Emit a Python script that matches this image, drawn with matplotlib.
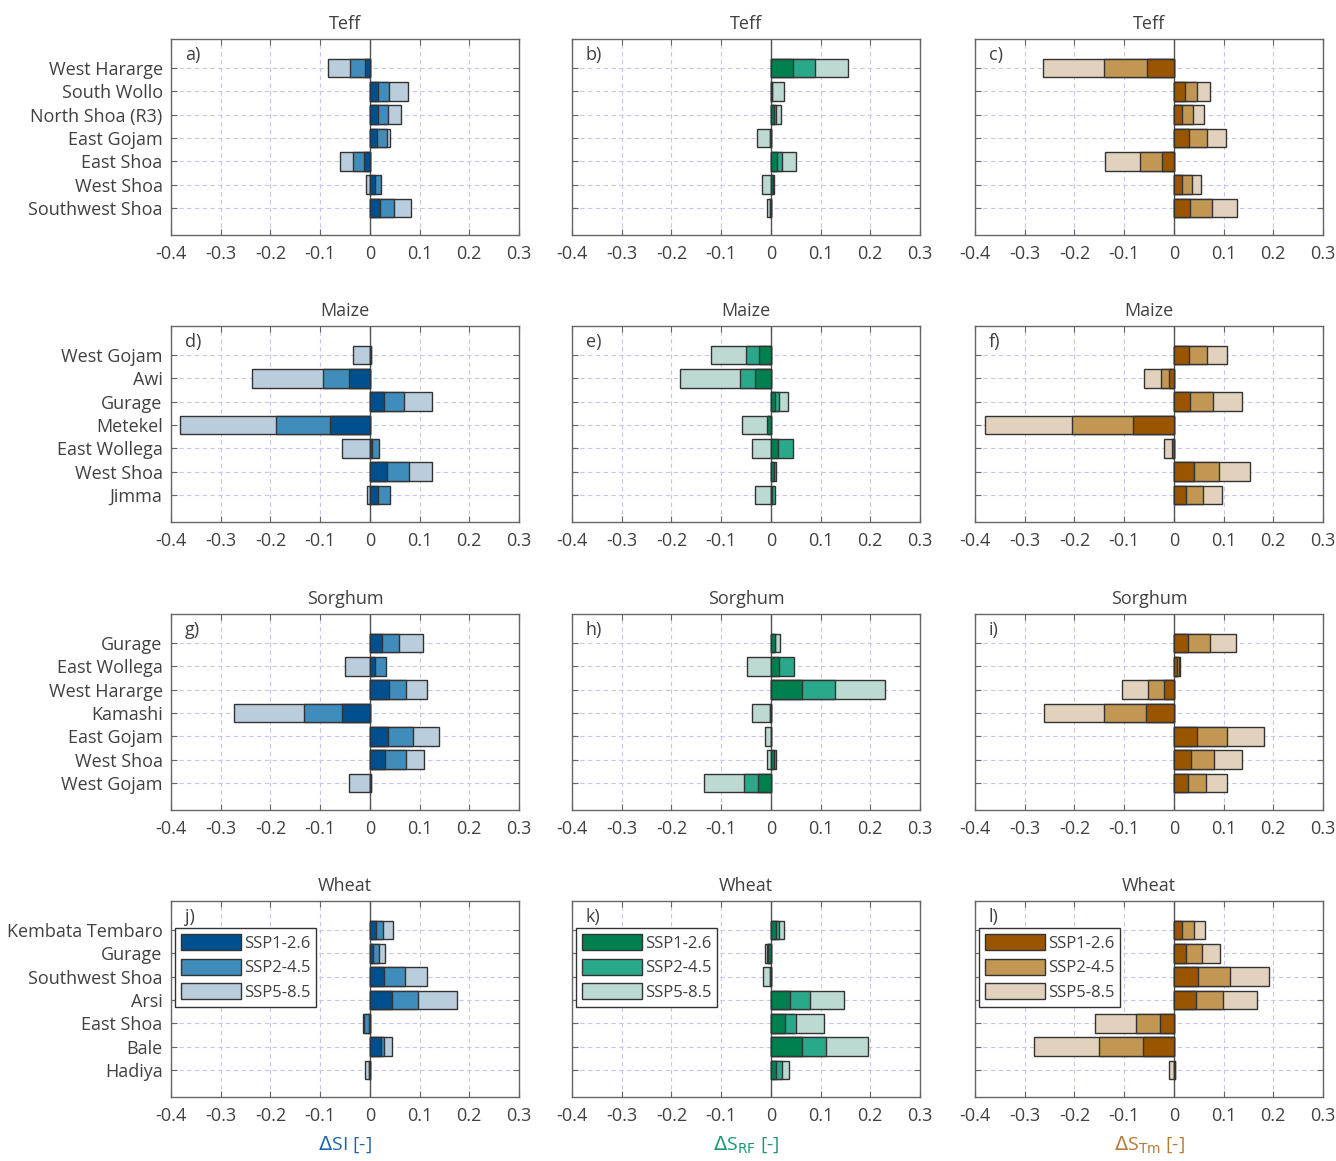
import matplotlib
import matplotlib.pyplot as plt
import numpy as np

matplotlib.use("Agg")

plt.rcParams["font.family"] = ["Open Sans", "DejaVu Sans"]
plt.rcParams["axes.unicode_minus"] = False

# ---- data ----
crops = ["Teff", "Maize", "Sorghum", "Wheat"]
scenarios = ["SSP1-2.6", "SSP2-4.5", "SSP5-8.5"]

teff_regions = ["West Hararge", "South Wollo", "North Shoa (R3)", "East Gojam",
                "East Shoa", "West Shoa", "Southwest Shoa"]
maize_regions = ["West Gojam", "Awi", "Gurage", "Metekel", "East Wollega",
                 "West Shoa", "Jimma"]
sorghum_regions = ["Gurage", "East Wollega", "West Hararge", "Kamashi",
                   "East Gojam", "West Shoa", "West Gojam"]
wheat_regions = ["Kembata Tembaro", "Gurage", "Southwest Shoa", "Arsi",
                 "East Shoa", "Bale", "Hadiya"]

# SI
teff_si_126 = [-0.010, 0.016, 0.016, 0.015, -0.011, 0.010, 0.021]
teff_si_245 = [-0.040, 0.038, 0.037, 0.034, -0.034, 0.023, 0.048]
teff_si_585 = [-0.085, 0.077, 0.062, 0.040, -0.061, -0.008, 0.083]
maize_si_126 = [0.003, -0.042, 0.028, -0.080, 0.005, 0.035, 0.017]
maize_si_245 = [0.002, -0.094, 0.068, -0.189, 0.018, 0.079, 0.040]
maize_si_585 = [-0.033, -0.237, 0.126, -0.381, -0.056, 0.126, -0.005]
sorghum_si_126 = [0.024, 0.011, 0.038, -0.056, 0.036, 0.030, 0.003]
sorghum_si_245 = [0.058, 0.032, 0.072, -0.132, 0.087, 0.072, 0.002]
sorghum_si_585 = [0.106, -0.050, 0.114, -0.274, 0.140, 0.109, -0.042]
wheat_si_126 = [0.012, 0.007, 0.028, 0.044, -0.001, 0.022, -0.002]
wheat_si_245 = [0.026, 0.019, 0.070, 0.097, -0.011, 0.029, -0.001]
wheat_si_585 = [0.046, 0.030, 0.115, 0.176, -0.014, 0.044, -0.010]

# S_RF
teff_rf_126 = [0.044, 0.003, 0.007, -0.001, 0.012, 0.004, -0.001]
teff_rf_245 = [0.088, 0.002, 0.011, -0.002, 0.023, 0.007, -0.002]
teff_rf_585 = [0.156, 0.027, 0.020, -0.028, 0.050, -0.018, -0.008]
maize_rf_126 = [-0.024, -0.031, 0.009, -0.008, 0.014, 0.007, 0.003]
maize_rf_245 = [-0.050, -0.062, 0.017, -0.006, 0.044, 0.011, 0.009]
maize_rf_585 = [-0.120, -0.183, 0.035, -0.059, -0.038, 0.003, -0.031]
sorghum_rf_126 = [0.008, 0.017, 0.062, -0.002, 0.001, 0.007, -0.026]
sorghum_rf_245 = [0.009, 0.046, 0.130, -0.001, 0.001, 0.011, -0.055]
sorghum_rf_585 = [0.018, -0.047, 0.229, -0.037, -0.011, -0.007, -0.135]
wheat_rf_126 = [0.010, -0.005, -0.002, 0.039, 0.029, 0.062, 0.011]
wheat_rf_245 = [0.017, -0.008, -0.001, 0.079, 0.051, 0.111, 0.023]
wheat_rf_585 = [0.027, -0.011, -0.015, 0.148, 0.107, 0.195, 0.037]

# S_Tm
teff_tm_126 = [-0.054, 0.022, 0.017, 0.030, -0.024, 0.016, 0.032]
teff_tm_245 = [-0.140, 0.047, 0.039, 0.066, -0.069, 0.037, 0.076]
teff_tm_585 = [-0.264, 0.072, 0.061, 0.104, -0.138, 0.055, 0.128]
maize_tm_126 = [0.030, -0.009, 0.032, -0.083, -0.003, 0.040, 0.025]
maize_tm_245 = [0.067, -0.026, 0.079, -0.204, -0.002, 0.091, 0.059]
maize_tm_585 = [0.106, -0.060, 0.138, -0.380, -0.019, 0.153, 0.097]
sorghum_tm_126 = [0.029, 0.007, -0.019, -0.056, 0.046, 0.035, 0.028]
sorghum_tm_245 = [0.072, 0.011, -0.053, -0.140, 0.107, 0.081, 0.065]
sorghum_tm_585 = [0.125, 0.013, -0.104, -0.262, 0.182, 0.138, 0.107]
wheat_tm_126 = [0.017, 0.024, 0.048, 0.044, -0.027, -0.062, 0.003]
wheat_tm_245 = [0.040, 0.057, 0.113, 0.099, -0.077, -0.150, 0.002]
wheat_tm_585 = [0.062, 0.093, 0.191, 0.167, -0.159, -0.282, -0.009]

xticks = [-0.4, -0.3, -0.2, -0.1, 0, 0.1, 0.2, 0.3]
xticklabels = ["-0.4", "-0.3", "-0.2", "-0.1", "0", "0.1", "0.2", "0.3"]

# ---- style ----
palettes = [
    ["#00508f", "#408cba", "#bacddc"],  # SI, blue
    ["#00804f", "#2aa88a", "#bcd9d2"],  # RF, green
    ["#9a5500", "#c29653", "#e1d1bd"],  # Tm, brown
]
xlab_colors = ["#1f64ae", "#1a9a6c", "#b87a35"]
xlabels = [r"$\Delta$SI [-]", r"$\Delta$S$_{\rm RF}$ [-]", r"$\Delta$S$_{\rm Tm}$ [-]"]
edge = "#333333"
txt = "#404040"
FS = 13

regions = [teff_regions, maize_regions, sorghum_regions, wheat_regions]
series = [
    [[teff_si_126, teff_si_245, teff_si_585],
     [teff_rf_126, teff_rf_245, teff_rf_585],
     [teff_tm_126, teff_tm_245, teff_tm_585]],
    [[maize_si_126, maize_si_245, maize_si_585],
     [maize_rf_126, maize_rf_245, maize_rf_585],
     [maize_tm_126, maize_tm_245, maize_tm_585]],
    [[sorghum_si_126, sorghum_si_245, sorghum_si_585],
     [sorghum_rf_126, sorghum_rf_245, sorghum_rf_585],
     [sorghum_tm_126, sorghum_tm_245, sorghum_tm_585]],
    [[wheat_si_126, wheat_si_245, wheat_si_585],
     [wheat_rf_126, wheat_rf_245, wheat_rf_585],
     [wheat_tm_126, wheat_tm_245, wheat_tm_585]],
]

W, H = 1336, 1161
fig = plt.figure(figsize=(W / 100, H / 100), dpi=100)

col_left = [171, 572, 975]
ax_w = 348
row_top = [39, 326, 614, 901]
ax_h = 196
letters = "abcdefghijkl"

for r in range(4):
    for c in range(3):
        ax = fig.add_axes([col_left[c] / W, 1 - (row_top[r] + ax_h) / H,
                           ax_w / W, ax_h / H])
        y = np.arange(1, 8)
        cols = palettes[c]
        bars = []
        # back to front: SSP5-8.5, SSP2-4.5, SSP1-2.6 (all drawn from zero)
        for k in [2, 1, 0]:
            b = ax.barh(y, series[r][c][k], height=0.8, color=cols[k],
                        edgecolor=edge, linewidth=1.0, zorder=3)
            bars.append(b)
        ax.axvline(0, color="#555555", lw=1.0, zorder=2)
        ax.set_xlim(-0.4, 0.3)
        ax.set_ylim(8.16, -0.24)
        ax.set_xticks(xticks)
        ax.set_xticklabels(xticklabels)
        ax.set_yticks(y)
        if c == 0:
            ax.set_yticklabels(regions[r])
        else:
            ax.set_yticklabels([])
        ax.grid(True, linestyle=(0, (4, 3)), color="#c6c6f5", lw=0.8)
        ax.set_axisbelow(True)
        ax.tick_params(direction="in", top=True, right=True, length=4,
                       color="#666666", labelcolor=txt, labelsize=FS)
        ax.tick_params(axis="x", pad=7)
        ax.tick_params(axis="y", pad=6)
        for s in ax.spines.values():
            s.set_color("#666666")
            s.set_linewidth(1.0)
        ax.set_title(crops[r], fontsize=FS, color=txt, pad=7)
        ax.text(0.04, 0.92, letters[r * 3 + c] + ")", transform=ax.transAxes,
                fontsize=FS, color=txt, va="center", ha="left")
        if r == 3:
            ax.set_xlabel(xlabels[c], fontsize=FS + 1, color=xlab_colors[c],
                          labelpad=7)
            leg = ax.legend([bars[2], bars[1], bars[0]], scenarios,
                            loc="upper left", bbox_to_anchor=(0.011, 0.862),
                            borderaxespad=0, fontsize=12, handlelength=3.6,
                            handleheight=1.1, fancybox=False, framealpha=1,
                            edgecolor="#333333", labelspacing=0.42,
                            handletextpad=0.2, borderpad=0.35)
            leg.get_frame().set_linewidth(1.0)
            for t in leg.get_texts():
                t.set_color(txt)

fig.savefig("out.png", dpi=100)
